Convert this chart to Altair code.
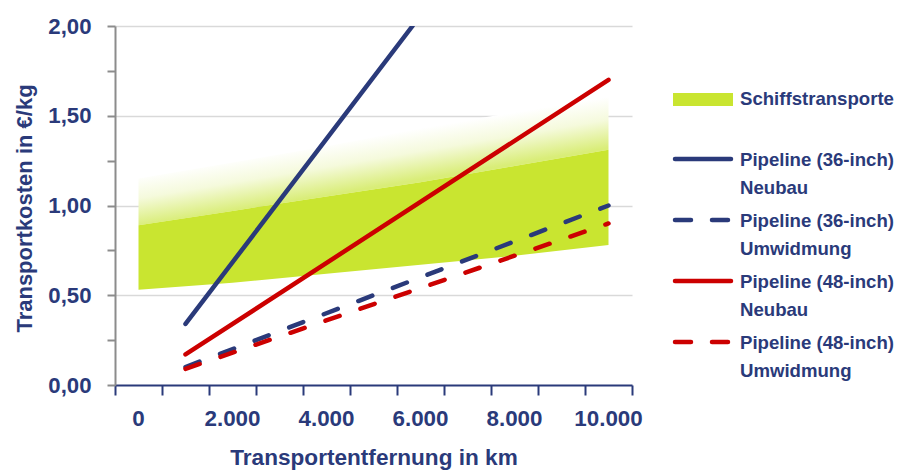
import altair as alt
import pandas as pd

# --- values -------------------------------------------------------------
# Ship transport cost band (€/kg) over distance (km)
ship_km = [0, 2000, 4000, 6000, 8000, 10000]
ship_low = [0.53, 0.57, 0.62, 0.67, 0.72, 0.78]
ship_mid = [0.89, 0.97, 1.05, 1.13, 1.22, 1.31]
ship_high = [1.15, 1.24, 1.33, 1.43, 1.52, 1.62]

# Pipeline costs (€/kg) over distance (km)
p36_new_km = [1000, 5830]
p36_new = [0.34, 2.00]
p36_conv_km = [1000, 10000]
p36_conv = [0.10, 1.00]
p48_new_km = [1000, 10000]
p48_new = [0.17, 1.70]
p48_conv_km = [1000, 10000]
p48_conv = [0.09, 0.90]

x_label_values = [0, 2000, 4000, 6000, 8000, 10000]
x_label_texts = ["0", "2.000", "4.000", "6.000", "8.000", "10.000"]
y_label_values = [0.0, 0.5, 1.0, 1.5, 2.0]

legend_labels = [
    "Schiffstransporte",
    "Pipeline (36-inch)\nNeubau",
    "Pipeline (36-inch)\nUmwidmung",
    "Pipeline (48-inch)\nNeubau",
    "Pipeline (48-inch)\nUmwidmung",
]

# --- style --------------------------------------------------------------
NAVY = "#2a3a7a"
RED = "#cc0000"
GREEN = "#c9e530"
GRID = "#d9d9d9"
GREY = "#8c8c8c"
FONT = "Liberation Sans, Arial, sans-serif"

W, H = 517, 359
LINE_W = 4.5
DASH = [15, 22]

x_ticks = list(range(-500, 10501, 1000))
y_ticks = [i * 0.25 for i in range(9)]

y_label_test = " || ".join(f"abs(datum.value - {v}) < 1e-6" for v in y_label_values)

x_axis = alt.Axis(
    values=x_ticks,
    labels=False,
    grid=False,
    domainColor=NAVY,
    domainWidth=2,
    tickColor=NAVY,
    tickWidth=2,
    tickSize=10,
    title="Transportentfernung in km",
    titleFont=FONT,
    titleFontSize=22.6,
    titleFontWeight="bold",
    titleColor=NAVY,
    titleBaseline="alphabetic",
    titleY=79,
)

y_axis = alt.Axis(
    values=y_ticks,
    labelExpr=f"({y_label_test}) ? replace(format(datum.value, '.2f'), '.', ',') : ''",
    gridOpacity={"condition": {"test": f"datum.value > 0.01 && ({y_label_test})", "value": 1}, "value": 0},
    labelOverlap=False,
    labelBound=False,
    labelFlush=False,
    grid=True,
    gridColor=GRID,
    gridWidth=1.5,
    domainColor=GREY,
    domainWidth=2,
    tickColor=GREY,
    tickWidth=2,
    tickSize=8,
    labelPadding=16,
    labelFont=FONT,
    labelFontSize=22.2,
    labelFontWeight="bold",
    labelColor=NAVY,
    title="Transportkosten in €/kg",
    titleFont=FONT,
    titleFontSize=22,
    titleFontWeight="bold",
    titleColor=NAVY,
    titleAngle=270,
    titleAlign="center",
    titleBaseline="middle",
    titleX=-91,
    titleY=182,
)

x_scale = alt.Scale(domain=[-500, 10500], nice=False, zero=False)
y_scale = alt.Scale(domain=[0, 2], nice=False)

ship = pd.DataFrame({"km": ship_km, "low": ship_low, "mid": ship_mid, "high": ship_high})

# Faded upper part of the ship band (white fading into light green)
fade = alt.Gradient(
    gradient="linear",
    stops=[
        alt.GradientStop(color="#ffffff", offset=0),
        alt.GradientStop(color="#f5fadc", offset=0.45),
        alt.GradientStop(color="#d9ed78", offset=1),
    ],
    x1=0.5, y1=0.32, x2=0.672, y2=0.606,
)

band_fade = alt.Chart(ship).mark_area(color=fade, opacity=1).encode(
    x=alt.X("km:Q", scale=x_scale, axis=x_axis),
    y=alt.Y("high:Q", scale=y_scale, axis=y_axis),
    y2="mid:Q",
)

band_solid = alt.Chart(ship).mark_area(color=GREEN, opacity=1).encode(
    x="km:Q",
    y="mid:Q",
    y2="low:Q",
)


def pipeline(km, vals, color, dash):
    df = pd.DataFrame({"km": km, "mid": vals})
    kw = dict(color=color, strokeWidth=LINE_W, strokeCap="round", clip=True)
    if dash:
        kw["strokeDash"] = DASH
    return alt.Chart(df).mark_line(**kw).encode(x="km:Q", y="mid:Q")


lines = [
    pipeline(p36_new_km, p36_new, NAVY, False),
    pipeline(p36_conv_km, p36_conv, NAVY, True),
    pipeline(p48_new_km, p48_new, RED, False),
    pipeline(p48_conv_km, p48_conv, RED, True),
]

# x tick labels sit between the ticks, placed through the x scale
x_labels = alt.Chart(
    pd.DataFrame({"km": x_label_values, "label": x_label_texts})
).mark_text(
    align="center", baseline="middle", font=FONT, fontSize=22.4,
    fontWeight="bold", color=NAVY,
).encode(x="km:Q", y=alt.value(H + 34), text="label:N")

# --- legend (drawn to the right of the plot) -----------------------------
one = pd.DataFrame({"k": [0]})
LX0, LX1, TX = 558, 618, 625
legend_layers = [
    alt.Chart(one).mark_rect(color=GREEN).encode(
        x=alt.value(LX0), x2=alt.value(LX1), y=alt.value(67), y2=alt.value(80)
    )
]
text_style = dict(align="left", baseline="middle", font=FONT, fontSize=18.6,
                  fontWeight="bold", color=NAVY)
legend_layers.append(
    alt.Chart(one).mark_text(**text_style).encode(
        x=alt.value(TX), y=alt.value(73), text=alt.value(legend_labels[0])
    )
)
styles = [(NAVY, False), (NAVY, True), (RED, False), (RED, True)]
for i, (label, (color, dash)) in enumerate(zip(legend_labels[1:], styles)):
    yc = 134 + 61 * i
    kw = dict(color=color, strokeWidth=LINE_W, strokeCap="round")
    if dash:
        kw["strokeDash"] = [16, 21]
    legend_layers.append(
        alt.Chart(one).mark_rule(**kw).encode(
            x=alt.value(LX0 + 2), x2=alt.value(LX1 - 2), y=alt.value(yc - 1)
        )
    )
    for j, part in enumerate(label.split("\n")):
        legend_layers.append(
            alt.Chart(one).mark_text(**text_style).encode(
                x=alt.value(TX), y=alt.value(yc + 28 * j), text=alt.value(part)
            )
        )

chart = alt.layer(band_fade, band_solid, *lines, x_labels, *legend_layers).properties(
    width=W,
    height=H,
    autosize=alt.AutoSizeParams(type="none"),
    padding={"left": 115, "top": 26, "right": 898 - 115 - W, "bottom": 470 - 26 - H},
).configure_view(stroke=None)

chart.save("out.html", embed_options={"renderer": "svg", "actions": False})
